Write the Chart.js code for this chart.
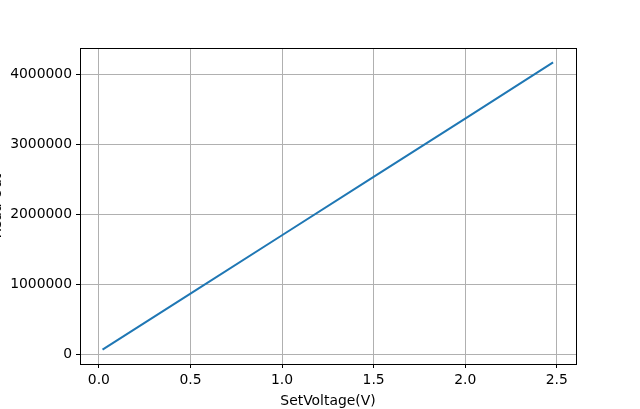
<!DOCTYPE html>
<html>
<head>
<meta charset="utf-8">
<script src="https://cdn.jsdelivr.net/npm/chart.js@4"></script>
<style>
html,body{margin:0;padding:0;background:#fff;}
#wrap{width:640px;height:409px;}
</style>
</head>
<body>
<div id="wrap"><canvas id="c" width="640" height="409"></canvas></div>
<script>
const voltages = [0.02, 0.5, 1.0, 1.5, 2.0, 2.48];
const readings = [62600, 864000, 1699000, 2534000, 3369000, 4174000];
const xTicks = [0.0, 0.5, 1.0, 1.5, 2.0, 2.5];
const yTicks = [0, 1000000, 2000000, 3000000, 4000000];
const xTitle = 'SetVoltage(V)';
const yTitle = 'Read Out';

const FONT = {family: 'DejaVu Sans', size: 13.9};

const framePlugin = {
  id: 'frame',
  afterDraw(chart) {
    const {ctx, chartArea: a} = chart;
    ctx.save();
    ctx.strokeStyle = '#000';
    ctx.lineWidth = 1;
    ctx.strokeRect(Math.round(a.left) + 0.5, Math.round(a.top) + 0.5, Math.round(a.right - a.left), Math.round(a.bottom - a.top));
    ctx.font = '13.9px "DejaVu Sans"';
    ctx.fillStyle = '#000';
    ctx.translate(1, (a.top + a.bottom) / 2);
    ctx.rotate(-Math.PI / 2);
    ctx.textAlign = 'center';
    ctx.textBaseline = 'alphabetic';
    ctx.fillText(yTitle, 0, 0);
    ctx.restore();
  }
};

new Chart(document.getElementById('c'), {
  type: 'line',
  data: {
    datasets: [{
      data: voltages.map((v, i) => ({x: v, y: readings[i]})),
      borderColor: '#1f77b4',
      borderWidth: 2,
      pointRadius: 0,
      tension: 0,
      fill: false
    }]
  },
  options: {
    responsive: false,
    animation: false,
    devicePixelRatio: 1,
    layout: {padding: {left: 0, right: 64, top: 48, bottom: 0}},
    plugins: {legend: {display: false}, tooltip: {enabled: false}},
    scales: {
      x: {
        type: 'linear',
        min: -0.103,
        max: 2.605,
        afterBuildTicks(s) { s.ticks = xTicks.map(v => ({value: v})); },
        afterFit(s) { s.height = 45; },
        ticks: {
          color: '#000', font: FONT, padding: 4, maxRotation: 0,
          callback: v => v.toFixed(1)
        },
        grid: {color: '#b0b0b0', lineWidth: 1, tickColor: '#000', tickLength: 4, drawTicks: true},
        border: {display: true, color: '#000', width: 1},
        title: {display: true, text: xTitle, color: '#000', font: FONT, padding: {top: 0, bottom: -1}}
      },
      y: {
        type: 'linear',
        min: -143000,
        max: 4379000,
        afterBuildTicks(s) { s.ticks = yTicks.map(v => ({value: v})); },
        afterFit(s) { s.width = 80; },
        ticks: {
          color: '#000', font: FONT, padding: 4,
          callback: v => String(v)
        },
        grid: {color: '#b0b0b0', lineWidth: 1, tickColor: '#000', tickLength: 4, drawTicks: true},
        border: {display: true, color: '#000', width: 1}
      }
    }
  },
  plugins: [framePlugin]
});
</script>
</body>
</html>
